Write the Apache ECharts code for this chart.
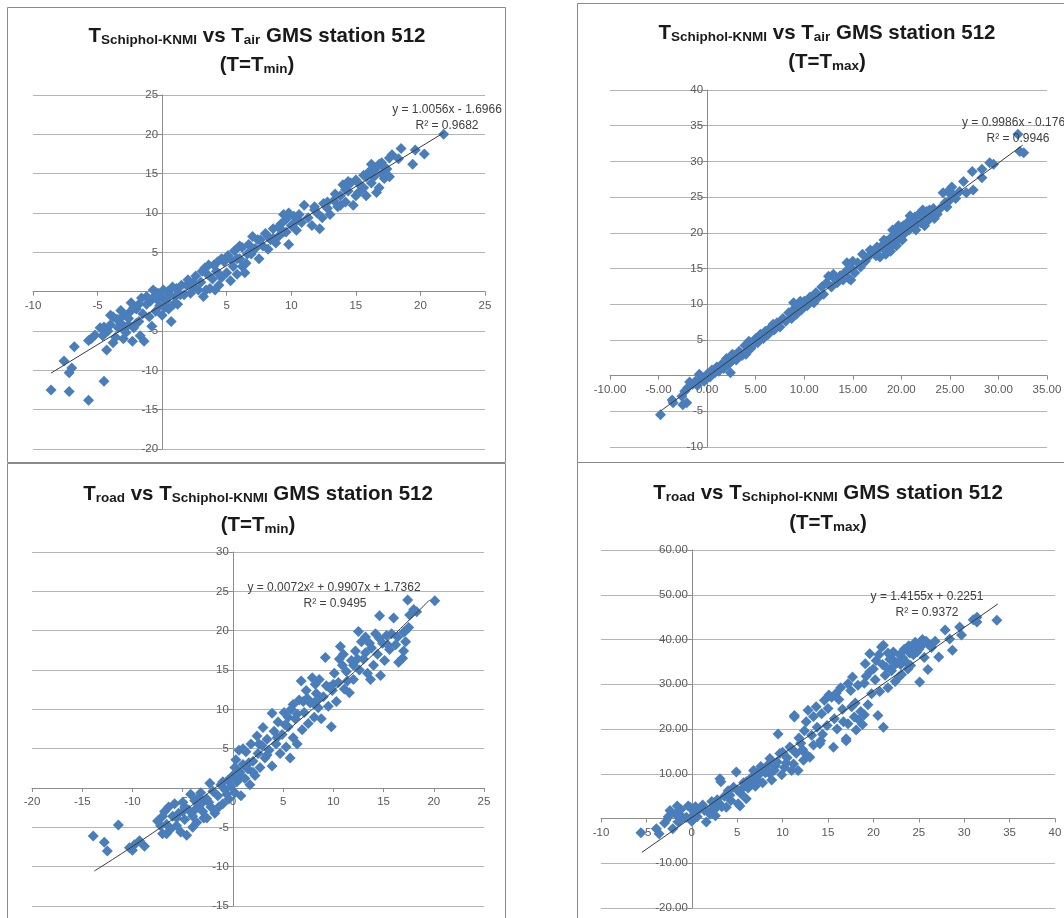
<!DOCTYPE html>
<html>
<head>
<meta charset="utf-8">
<script src="https://cdn.jsdelivr.net/npm/echarts@6/dist/echarts.min.js"></script>
<style>
html,body{margin:0;padding:0;background:#fff;}
#chart{width:1064px;height:918px;}
</style>
</head>
<body>
<div id="chart"></div>
<script>
// Panel 1: T Schiphol-KNMI vs T air (Tmin)
const p1 = [[-8.6,-12.5],[-7.2,-12.7],[-5.7,-13.8],[-4.5,-11.4],[-7.6,-8.8],[-7.2,-10.3],[-7.0,-9.7],[-6.8,-7.0],[-5.5,-6.0],[-5.7,-6.2],[-5.2,-5.5],[-4.3,-7.4],[-4.5,-4.5],[-4.2,-5.0],[-4.0,-4.2],[-3.8,-6.5],[-3.6,-5.8],[-3.5,-3.5],[-3.2,-4.0],[-3.0,-3.0],[-3.0,-6.0],[-2.8,-5.2],[-2.6,-3.4],[-2.5,-2.6],[-2.3,-6.3],[-2.2,-4.6],[-2.0,-2.2],[-1.8,-3.8],[-1.7,-5.6],[-1.5,-2.8],[-1.4,-6.3],[-1.2,-1.6],[-1.0,-3.2],[-0.9,-1.2],[-0.8,-4.4],[-0.6,-0.6],[-0.5,-2.5],[-0.3,-0.2],[-0.2,-1.8],[0.0,-3.0],[0.1,0.2],[0.3,-1.2],[0.5,-2.2],[0.7,-3.8],[0.8,0.6],[1.0,-0.6],[1.2,-1.6],[1.5,0.8],[1.7,-0.4],[2.0,1.5],[2.2,-0.2],[2.5,0.6],[2.6,2.0],[3.0,1.2],[3.2,-0.6],[3.3,3.0],[3.5,2.2],[3.7,0.4],[3.9,1.6],[4.0,3.4],[4.2,2.6],[4.4,0.8],[4.6,1.8],[4.8,3.8],[5.0,2.4],[5.1,4.6],[5.3,1.4],[5.5,3.2],[5.6,5.2],[5.8,2.2],[6.0,4.2],[6.2,5.6],[6.4,2.4],[6.5,3.6],[6.7,6.0],[6.9,4.8],[7.2,5.5],[7.4,6.6],[7.5,4.2],[7.8,5.8],[8.0,7.4],[8.2,5.4],[8.4,6.6],[8.6,8.0],[8.8,6.2],[9.0,7.0],[9.2,8.6],[9.4,7.6],[9.6,9.2],[9.8,6.0],[10.0,8.4],[10.2,9.6],[10.4,7.8],[10.8,8.8],[11.0,11.0],[11.3,9.4],[11.6,8.4],[12.0,10.0],[12.2,8.0],[12.5,11.2],[12.8,10.6],[13.0,9.8],[13.3,11.6],[13.6,10.8],[13.8,12.2],[14.0,13.6],[14.2,11.4],[14.4,12.8],[14.6,13.8],[14.8,11.0],[15.0,14.2],[15.2,12.6],[15.4,13.4],[15.6,14.8],[15.8,12.2],[16.0,15.2],[16.2,13.8],[16.4,14.6],[16.6,15.8],[16.8,13.2],[17.0,16.4],[17.2,14.4],[17.4,15.6],[17.6,17.0],[17.8,17.4],[17.6,14.6],[18.5,18.2],[18.3,16.9],[19.6,18.0],[20.3,17.5],[19.4,16.2],[21.8,20.0],[-1.0,-1.0],[-0.4,-1.0],[0.4,0.0],[0.6,-0.4],[-2.2,-2.0],[-3.4,-4.6],[-4.6,-5.6],[-2.6,-4.2],[1.4,-0.4],[2.8,0.2],[4.1,0.2],[4.6,4.2],[5.8,4.2],[6.2,3.2],[7.0,5.2],[8.6,6.8],[9.4,9.8],[10.6,9.8],[12.4,9.4],[13.4,12.4],[14.4,14.0],[15.2,13.8],[16.4,15.4],[16.6,12.6],[17.2,15.8],[-3.8,-3.2],[-1.6,-0.8],[0.9,-1.6],[3.6,3.4],[4.4,2.2],[7.0,7.0],[9.8,10.0],[11.8,10.8],[13.8,11.0],[15.6,13.2],[16.8,16.2],[-4.8,-4.6],[-4.0,-3.0],[-3.2,-2.4],[-2.4,-1.4],[-1.8,-1.6],[-1.2,-0.6],[-0.7,0.2],[-0.1,-0.6],[0.2,-2.0],[1.1,0.4],[1.9,0.8],[2.4,1.2],[3.1,2.6],[3.4,0.2],[4.3,3.8],[5.4,4.0],[6.0,5.8],[6.6,4.8],[7.6,6.6],[8.2,7.0],[9.0,8.2],[9.6,7.6],[10.4,9.0],[11.8,10.4],[12.8,11.4],[14.2,13.0],[15.0,12.2],[15.8,14.6],[16.2,16.2],[17.0,15.0],[-3.0,-4.8],[-2.0,-4.0]];
const trend1 = [[-8.6,-10.35],[21.8,20.2]];
const eq1 = ['y = 1.0056x - 1.6966', 'R\u00b2 = 0.9682'];

// Panel 2: T Schiphol-KNMI vs T air (Tmax)
const p2 = [[-4.8,-5.5],[-3.6,-3.4],[-3.5,-3.8],[-2.6,-2.9],[-2.5,-4.1],[-2.3,-2.2],[-2.1,-3.8],[-2.0,-1.7],[-1.8,-0.9],[-1.5,-1.2],[-1.2,-0.8],[-1.0,-1.4],[-0.6,-0.4],[-0.3,-0.8],[0.0,0.2],[0.3,-0.2],[0.5,0.8],[0.8,0.4],[1.0,1.2],[1.2,0.6],[1.5,1.6],[1.7,1.0],[2.0,2.4],[2.2,1.6],[2.4,0.4],[2.5,2.0],[2.8,2.8],[3.0,2.2],[3.3,3.4],[3.6,2.8],[3.9,4.2],[4.1,3.4],[4.3,4.8],[4.5,3.8],[4.8,4.4],[5.0,5.2],[5.2,4.6],[5.5,5.8],[5.8,5.2],[6.0,6.2],[6.3,5.8],[6.6,6.8],[6.9,6.4],[7.2,7.4],[7.5,6.8],[7.8,8.0],[8.1,7.6],[8.4,8.8],[8.7,8.0],[9.0,9.4],[9.2,8.6],[9.4,10.0],[9.7,9.2],[10.0,10.4],[10.3,9.8],[10.6,11.0],[10.9,10.4],[11.2,11.6],[11.5,11.0],[11.8,12.4],[12.0,11.4],[12.3,13.0],[12.5,13.9],[12.8,12.4],[13.1,13.6],[13.4,13.0],[13.7,14.0],[14.0,13.4],[14.3,14.6],[14.4,15.8],[14.6,13.6],[14.9,15.0],[15.2,14.4],[15.5,15.8],[15.8,15.2],[16.0,17.0],[16.3,16.0],[16.6,16.6],[17.0,17.2],[17.4,16.8],[17.7,17.8],[17.8,16.6],[18.0,18.2],[18.3,17.6],[18.5,18.8],[18.7,18.0],[19.0,19.4],[19.2,18.4],[19.4,20.0],[19.6,19.0],[19.8,20.6],[20.0,19.6],[20.2,21.0],[20.4,20.0],[20.6,21.4],[20.8,20.4],[21.0,21.8],[21.2,20.8],[21.4,22.2],[21.6,21.2],[21.8,22.6],[22.0,21.4],[22.3,22.2],[22.6,23.0],[22.8,21.8],[23.1,22.6],[23.4,22.0],[24.0,23.4],[24.3,25.6],[24.5,24.2],[24.8,25.8],[25.0,24.6],[25.3,25.4],[25.6,24.8],[26.0,25.8],[26.4,27.2],[26.7,25.6],[27.3,28.6],[27.4,26.0],[28.3,28.9],[28.3,27.7],[29.1,29.8],[29.5,29.6],[32.0,33.8],[32.2,31.4],[32.6,31.2],[18.4,17.0],[19.5,18.2],[20.5,20.8],[21.3,21.6],[22.2,23.2],[19.1,20.4],[8.9,10.2],[9.6,10.4],[4.0,3.0],[2.6,3.0],[-0.8,0.2],[18.2,19.0],[18.9,17.4],[19.7,21.0],[20.1,19.0],[20.9,22.4],[21.5,20.4],[22.4,21.0],[22.9,23.2],[23.3,23.4],[23.7,22.6],[17.5,18.0],[16.8,17.6],[15.0,16.0],[13.0,14.2],[11.0,10.2],[6.8,7.2],[10.5,10.2],[24.7,23.6],[25.2,26.4],[14.8,13.4]];
const trend2 = [[-4.8,-4.97],[32.5,32.28]];
const eq2 = ['y = 0.9986x - 0.176', 'R\u00b2 = 0.9946'];

// Panel 3: T road vs T Schiphol-KNMI (Tmin)
const p3 = [[-13.9,-6.1],[-12.8,-6.9],[-12.5,-8.0],[-11.4,-4.7],[-10.3,-7.6],[-9.8,-7.2],[-9.3,-6.7],[-8.8,-7.4],[-10.0,-7.9],[-7.5,-4.2],[-7.0,-5.8],[-6.8,-3.0],[-6.6,-4.6],[-6.4,-2.4],[-6.2,-5.2],[-6.0,-3.6],[-5.8,-2.0],[-5.6,-4.8],[-5.4,-3.2],[-5.2,-5.6],[-5.0,-1.8],[-4.8,-4.0],[-4.6,-6.0],[-4.4,-2.8],[-4.2,-0.8],[-4.0,-3.6],[-3.8,-1.6],[-3.6,-4.4],[-3.4,-2.2],[-3.2,-0.6],[-3.0,-3.0],[-2.9,-3.8],[-2.6,-1.4],[-2.3,0.6],[-2.2,-2.4],[-2.0,-0.4],[-1.8,-3.2],[-1.5,-1.0],[-1.2,0.4],[-1.0,-2.0],[-0.8,-0.2],[-0.5,1.0],[-0.4,-1.4],[-0.2,0.2],[0.0,1.6],[0.2,-0.6],[0.3,3.6],[0.4,0.8],[0.6,4.8],[0.7,2.0],[0.8,-1.0],[1.0,3.0],[1.2,1.2],[1.3,4.6],[1.5,2.4],[1.7,0.4],[1.8,5.6],[2.0,3.4],[2.2,1.6],[2.4,6.6],[2.5,4.4],[2.7,2.6],[2.9,5.4],[3.0,7.7],[3.2,3.8],[3.4,6.2],[3.6,4.8],[3.9,9.5],[3.9,2.8],[4.1,7.2],[4.3,5.6],[4.5,8.4],[4.7,4.4],[4.9,6.8],[5.1,9.6],[5.3,5.2],[5.5,7.8],[5.7,3.8],[5.8,10.0],[6.0,6.4],[6.2,8.8],[6.4,5.6],[6.6,11.2],[6.8,13.6],[6.9,7.4],[7.1,9.6],[7.3,12.4],[7.5,8.2],[7.7,10.8],[7.9,14.0],[8.1,9.0],[8.3,12.0],[8.5,10.2],[8.6,13.8],[8.8,8.8],[9.0,11.6],[9.2,16.6],[9.3,13.0],[9.5,10.4],[9.8,7.8],[9.9,12.4],[10.1,14.6],[10.3,11.0],[10.5,13.4],[10.7,18.0],[10.9,15.6],[11.1,12.6],[11.3,14.8],[11.6,12.1],[11.8,16.2],[12.0,13.8],[12.2,17.4],[12.5,19.9],[12.6,15.0],[12.8,18.6],[13.0,16.4],[13.2,19.2],[13.4,14.6],[13.7,13.8],[13.8,17.8],[14.0,15.6],[14.2,19.6],[14.4,17.0],[14.6,21.9],[14.7,14.3],[14.9,18.4],[15.1,16.2],[15.3,19.4],[15.6,17.6],[16.0,21.6],[16.2,18.2],[16.5,16.0],[16.9,16.5],[17.0,19.8],[17.2,18.6],[17.4,23.9],[17.5,20.4],[17.6,22.0],[18.0,22.7],[18.3,22.4],[20.1,23.8],[1.0,5.0],[2.0,2.0],[5.5,9.0],[7.0,11.0],[8.0,10.8],[10.0,13.2],[12.0,15.6],[13.6,18.4],[15.8,19.6],[-1.0,0.8],[-3.0,-1.8],[-5.0,-3.0],[-7.0,-3.6],[-2.6,-3.8],[-4.0,-5.0],[-7.2,-4.8],[-6.6,-5.8],[-5.6,-3.8],[-4.8,-2.4],[-3.8,-2.8],[-3.4,-1.2],[-2.4,-1.8],[-1.4,-2.4],[-0.6,-0.8],[0.2,2.6],[0.8,1.4],[1.6,3.2],[2.6,5.6],[3.4,4.2],[4.4,6.4],[5.2,8.0],[6.0,10.6],[6.4,9.4],[7.4,11.4],[8.4,11.2],[9.6,12.8],[10.6,16.4],[11.4,13.6],[12.4,16.4],[13.2,17.2],[14.6,19.0],[15.4,18.2],[16.4,19.2],[17.2,20.0],[17.0,17.4],[11.0,17.0],[8.2,13.2]];
const trend3 = [[-13.8,-10.56],[-8,-5.73],[-3,-1.17],[2,3.75],[7,9.02],[12,14.66],[16,19.43],[19.6,23.92]];
const eq3 = ['y = 0.0072x\u00b2 + 0.9907x + 1.7362', 'R\u00b2 = 0.9495'];

// Panel 4: T road vs T Schiphol-KNMI (Tmax)
const p4 = [[-5.6,-3.2],[-3.9,-2.3],[-3.6,-3.4],[-3.0,-1.0],[-2.6,0.4],[-2.1,-2.3],[-1.8,1.0],[-1.5,-0.8],[-1.2,2.0],[-1.0,0.2],[-0.6,0.3],[-0.4,2.8],[-0.2,2.5],[0.0,-0.6],[0.3,1.4],[0.6,0.4],[0.9,2.2],[1.2,3.0],[1.6,-0.8],[1.8,1.6],[2.2,3.8],[2.5,2.0],[2.8,4.2],[3.1,8.9],[3.2,8.2],[3.3,2.6],[3.6,5.0],[3.8,2.5],[4.0,6.2],[4.3,4.0],[4.6,7.0],[4.9,10.4],[5.1,3.3],[5.3,2.8],[5.4,5.6],[5.7,8.0],[6.0,4.4],[6.2,6.8],[6.5,9.0],[6.8,10.7],[7.0,7.2],[7.3,9.6],[7.6,11.6],[7.8,8.0],[8.1,10.2],[8.4,12.0],[8.6,13.4],[8.8,8.6],[9.1,10.8],[9.5,18.9],[9.4,12.6],[9.7,14.5],[9.9,9.8],[10.2,11.4],[10.5,13.6],[10.8,16.0],[11.0,10.7],[11.2,12.2],[11.3,22.7],[11.3,23.0],[11.5,14.6],[11.7,10.7],[12.0,16.8],[12.3,13.0],[12.5,14.5],[12.6,21.6],[12.8,24.2],[13.0,13.7],[13.2,18.6],[13.4,22.8],[13.7,25.0],[14.1,16.7],[14.2,17.4],[14.3,23.4],[14.6,26.4],[14.9,20.8],[15.1,27.6],[15.4,27.1],[15.6,15.9],[15.7,22.3],[15.9,28.0],[16.2,26.6],[16.4,29.2],[16.7,21.6],[17.0,17.8],[17.0,17.4],[17.2,21.2],[17.2,30.1],[17.5,28.6],[17.7,31.6],[17.9,22.7],[18.1,19.8],[18.3,29.8],[18.6,23.9],[18.8,21.0],[19.1,34.6],[19.2,31.8],[19.4,25.4],[19.6,36.8],[19.8,27.9],[20.0,33.4],[20.3,35.3],[20.5,23.0],[20.7,28.4],[20.9,38.3],[21.1,20.4],[21.1,38.7],[21.3,32.0],[21.6,29.2],[21.8,35.6],[22.0,33.0],[22.2,37.2],[22.4,30.6],[22.6,34.8],[22.9,36.6],[23.1,32.2],[23.4,37.8],[23.6,35.0],[23.9,38.6],[24.1,34.2],[24.4,36.6],[24.6,39.4],[24.8,37.2],[25.1,30.5],[25.2,38.4],[25.4,40.0],[25.6,36.0],[26.0,33.3],[26.0,39.0],[26.4,38.2],[26.8,39.6],[27.2,36.1],[27.9,42.1],[28.7,37.6],[28.4,40.1],[29.5,42.8],[29.7,41.0],[31.4,45.0],[31.4,43.9],[31.0,44.4],[33.6,44.3],[5.0,6.4],[6.0,8.2],[7.2,8.6],[8.2,11.0],[9.0,12.0],[10.0,14.8],[11.8,18.0],[12.4,19.6],[13.8,20.4],[14.4,18.8],[15.0,24.6],[16.0,20.0],[18.0,25.8],[19.0,30.2],[20.2,31.0],[21.0,34.4],[22.0,35.8],[23.0,34.4],[24.0,37.0],[-2.4,1.8],[-1.6,2.8],[0.4,2.6],[2.0,1.0],[2.6,0.6],[-1.2,-0.2],[0.2,0.8],[1.4,1.8],[2.4,2.8],[3.0,3.4],[4.2,5.2],[5.6,6.8],[6.6,7.6],[7.4,10.4],[8.6,10.0],[9.2,11.8],[10.4,12.4],[11.0,15.6],[12.2,15.4],[13.4,16.4],[21.4,33.8],[22.2,34.0],[22.8,31.6],[23.2,36.0],[23.8,33.4],[24.2,38.2],[25.0,37.8],[25.8,39.6],[20.6,36.6],[21.6,37.0],[19.6,32.8],[16.6,24.4],[17.6,25.0],[18.4,22.0],[19.0,23.2]];
const trend4 = [[-5.5,-7.56],[33.7,47.93]];
const eq4 = ['y = 1.4155x + 0.2251', 'R\u00b2 = 0.9372'];

// axis ranges [min, max, interval, label decimals]
const xAxes = [[-10,25,5,0],[-10,35,5,2],[-20,25,5,0],[-10,40,5,0]];
const yAxes = [[-20,25,5,0],[-10,40,5,0],[-15,30,5,0],[-20,60,10,2]];

const chart = echarts.init(document.getElementById('chart'), null, {renderer:'canvas'});

const grids = [
  {left:33, top:95, width:452, height:354},
  {left:610, top:90, width:437, height:357},
  {left:32, top:552, width:452, height:354},
  {left:601, top:550, width:454, height:358}
];
const AX = '#8c8c8c', GRIDC = '#b4b4b4', LBL = '#595959';
const LF = '"Liberation Sans", Arial, sans-serif';

// place each axis where the other axis is zero (Excel-style crossing)
const xAxis = xAxes.map((a,i)=>{
  const y = yAxes[i], g = grids[i];
  const off = -((0 - y[0]) / (y[1] - y[0])) * g.height;
  return {
    type:'value', gridIndex:i, min:a[0], max:a[1], interval:a[2], position:'bottom', offset:off,
    axisLine:{show:true, onZero:false, lineStyle:{color:AX, width:1}},
    axisTick:{show:true, length:4, lineStyle:{color:AX}},
    splitLine:{show:false},
    axisLabel:{color:LBL, fontSize:11.5, fontFamily:LF, margin:8,
      formatter:(v)=>v.toFixed(a[3])}
  };
});
const yAxis = yAxes.map((a,i)=>{
  const x = xAxes[i], g = grids[i];
  const off = -((0 - x[0]) / (x[1] - x[0])) * g.width;
  return {
    type:'value', gridIndex:i, min:a[0], max:a[1], interval:a[2], position:'left', offset:off,
    axisLine:{show:true, onZero:false, lineStyle:{color:AX, width:1}},
    axisTick:{show:true, length:4, lineStyle:{color:AX}},
    splitLine:{show:true, lineStyle:{color:GRIDC, width:1.2}},
    axisLabel:{color:LBL, fontSize:11.5, fontFamily:LF, margin:4,
      formatter:(v)=>v.toFixed(a[3])}
  };
});

const pts = [p1,p2,p3,p4];
const trends = [trend1,trend2,trend3,trend4];
const series = [];
pts.forEach((d,i)=>{
  series.push({type:'scatter', xAxisIndex:i, yAxisIndex:i, data:d, symbol:'diamond', symbolSize:11,
    itemStyle:{color:'#4a7ebb', opacity:1}, silent:true, z:2});
});
trends.forEach((d,i)=>{
  series.push({type:'line', xAxisIndex:i, yAxisIndex:i, data:d, showSymbol:false, smooth:i===2,
    lineStyle:{color:'#3a3a3a', width:1}, silent:true, z:3});
});

const TF = '"Liberation Sans", Arial, sans-serif';
const rich = {
  a:{fontFamily:TF, fontWeight:'bold', fontSize:20.5, color:'#1a1a1a', lineHeight:26, verticalAlign:'bottom'},
  s:{fontFamily:TF, fontWeight:'bold', fontSize:13.5, color:'#1a1a1a', lineHeight:14, verticalAlign:'bottom'}
};
function T(text, cx, cy){
  return {text:text, left:cx, top:cy-13, textAlign:'center', padding:0, itemGap:0,
    textStyle:{rich:rich, fontSize:20.5, lineHeight:26}};
}
function E(text, x, cy, align){
  return {text:text, left:x, top:cy-7, textAlign:align, padding:0,
    textStyle:{fontFamily:LF, fontSize:12, fontWeight:'normal', color:'#404040', lineHeight:14}};
}
const titles = [
  T('{a|T}{s|Schiphol-KNMI}{a| vs T}{s|air}{a| GMS station 512}', 257, 34),
  T('{a|(T=T}{s|min}{a|)}', 257, 63),
  T('{a|T}{s|Schiphol-KNMI}{a| vs T}{s|air}{a| GMS station 512}', 827, 31),
  T('{a|(T=T}{s|max}{a|)}', 827, 60),
  T('{a|T}{s|road}{a| vs T}{s|Schiphol-KNMI}{a| GMS station 512}', 258, 492),
  T('{a|(T=T}{s|min}{a|)}', 258, 523),
  T('{a|T}{s|road}{a| vs T}{s|Schiphol-KNMI}{a| GMS station 512}', 828, 491),
  T('{a|(T=T}{s|max}{a|)}', 828, 521),
  E(eq1[0], 447, 110, 'center'), E(eq1[1], 447, 126, 'center'),
  E(eq2[0], 962, 123, 'left'), E(eq2[1], 1018, 139, 'center'),
  E(eq3[0], 334, 588, 'center'), E(eq3[1], 335, 604, 'center'),
  E(eq4[0], 927, 597, 'center'), E(eq4[1], 927, 613, 'center')
];

const frame = {fill:'none', stroke:'#8a8a8a', lineWidth:1};
chart.setOption({
  animation:false,
  backgroundColor:'#ffffff',
  title:titles,
  grid:grids.map(g=>Object.assign({outerBoundsMode:'none', containLabel:false}, g)),
  xAxis:xAxis, yAxis:yAxis, series:series,
  graphic:[
    {type:'rect', shape:{x:7.5,y:7.5,width:498,height:455}, style:frame, silent:true},
    {type:'rect', shape:{x:7.5,y:463.5,width:498,height:470}, style:frame, silent:true},
    {type:'rect', shape:{x:577.5,y:3.5,width:500,height:459}, style:frame, silent:true},
    {type:'rect', shape:{x:577.5,y:462.5,width:500,height:470}, style:frame, silent:true}
  ]
});
</script>
</body>
</html>
